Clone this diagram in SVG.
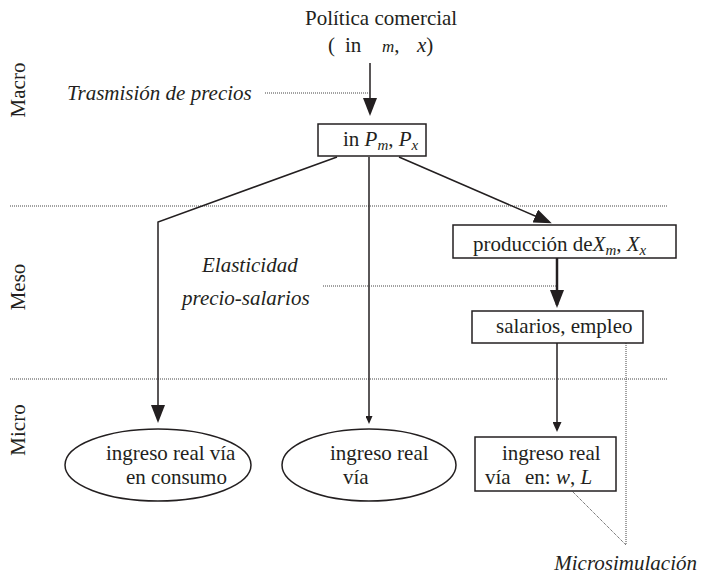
<svg xmlns="http://www.w3.org/2000/svg" width="701" height="576" viewBox="0 0 701 576">
<style>
  text { font-family: 'Liberation Serif', 'Times New Roman', Tinos, 'DejaVu Serif', 'Noto Serif', Times, serif; font-size: 21px; fill: #231f20; }
  .it { font-style: italic; }
  .sub { font-style: italic; font-size: 15px; }
  .box { fill: #fff; stroke: #231f20; stroke-width: 1.5; }
  .line { fill: none; stroke: #231f20; stroke-width: 1.5; }
  .thick { fill: none; stroke: #231f20; stroke-width: 2.5; }
  .dot { fill: none; stroke: #444; stroke-width: 1; stroke-dasharray: 1 1; }
</style>
<defs>
  <marker id="big" markerUnits="userSpaceOnUse" viewBox="0 0 18 14" markerWidth="18" markerHeight="14" refX="15" refY="7" orient="auto">
    <path d="M0,0 L18,7 L0,14 z" fill="#231f20"/>
  </marker>
  <marker id="small" markerUnits="userSpaceOnUse" viewBox="0 0 10 9" markerWidth="10" markerHeight="9" refX="8" refY="4.5" orient="auto">
    <path d="M0,0 L10,4.5 L0,9 z" fill="#231f20"/>
  </marker>
  <marker id="tiny" markerUnits="userSpaceOnUse" viewBox="0 0 8 7" markerWidth="8" markerHeight="7" refX="6" refY="3.5" orient="auto">
    <path d="M0,0 L8,3.5 L0,7 z" fill="#231f20"/>
  </marker>
</defs>

<!-- level separators and labels -->
<g id="levels">
  <line class="dot" x1="10" y1="206" x2="667" y2="206"/>
  <line class="dot" x1="10" y1="379" x2="667" y2="379"/>
  <text transform="translate(25,90) rotate(-90)" text-anchor="middle">Macro</text>
  <text transform="translate(25,287) rotate(-90)" text-anchor="middle">Meso</text>
  <text transform="translate(25,430) rotate(-90)" text-anchor="middle">Micro</text>
</g>

<g id="connectors">
  <line class="line" x1="370" y1="63" x2="370" y2="113" marker-end="url(#big)"/>
  <polyline class="line" points="337,157 158,222 158,420" marker-end="url(#big)"/>
  <line class="line" x1="369" y1="157" x2="369" y2="422" marker-end="url(#tiny)"/>
  <line class="line" x1="399" y1="157" x2="549" y2="222" marker-end="url(#big)"/>
  <line class="thick" x1="557" y1="258" x2="557" y2="305" marker-end="url(#big)"/>
  <line class="line" x1="557" y1="343" x2="557" y2="430" marker-end="url(#small)"/>
  <line class="dot" x1="265" y1="93" x2="370" y2="93"/>
  <line class="dot" x1="323" y1="286" x2="557" y2="286"/>
  <polyline class="dot" points="626,343 626,545 572,491"/>
</g>

<g id="politica">
  <text x="305" y="25">Política comercial</text>
  <text x="328" y="52">(</text>
  <text x="345" y="52">in</text>
  <text x="382" y="52"><tspan class="it" font-size="17">m</tspan>,</text>
  <text x="417" y="52"><tspan class="it">x</tspan>)</text>
</g>

<g id="trasmision">
  <text class="it" x="67" y="100">Trasmisión de precios</text>
</g>

<g id="precios">
  <rect class="box" x="318" y="124" width="108" height="32"/>
  <text x="343" y="146">in <tspan class="it">P</tspan><tspan class="sub" dy="4">m</tspan><tspan dy="-4">, </tspan><tspan class="it">P</tspan><tspan class="sub" dy="4">x</tspan></text>
</g>

<g id="produccion">
  <rect class="box" x="453" y="225" width="223" height="33"/>
  <text x="473" y="251">producción de<tspan class="it">X</tspan><tspan class="sub" dy="4">m</tspan><tspan dy="-4">, </tspan><tspan class="it">X</tspan><tspan class="sub" dy="4">x</tspan></text>
</g>

<g id="elasticidad">
  <text class="it" x="202" y="272">Elasticidad</text>
  <text class="it" x="182" y="305">precio-salarios</text>
</g>

<g id="salarios">
  <rect class="box" x="472" y="311" width="171" height="32"/>
  <text x="496" y="333">salarios, empleo</text>
</g>

<g id="consumo">
  <ellipse class="box" cx="158" cy="465" rx="93" ry="36"/>
  <text x="106" y="460">ingreso real vía</text>
  <text x="126" y="484">en consumo</text>
</g>

<g id="ingreso-via">
  <ellipse class="box" cx="369" cy="465" rx="87" ry="36"/>
  <text x="330" y="460">ingreso real</text>
  <text x="343" y="484">vía</text>
</g>

<g id="ingreso-wl">
  <rect class="box" x="475" y="437" width="141" height="54"/>
  <text x="502" y="460">ingreso real</text>
  <text x="485" y="484">vía</text>
  <text x="525" y="484">en: <tspan class="it">w</tspan>, <tspan class="it">L</tspan></text>
</g>

<g id="microsimulacion">
  <text class="it" x="697" y="570" text-anchor="end" font-size="22">Microsimulación</text>
</g>
</svg>
